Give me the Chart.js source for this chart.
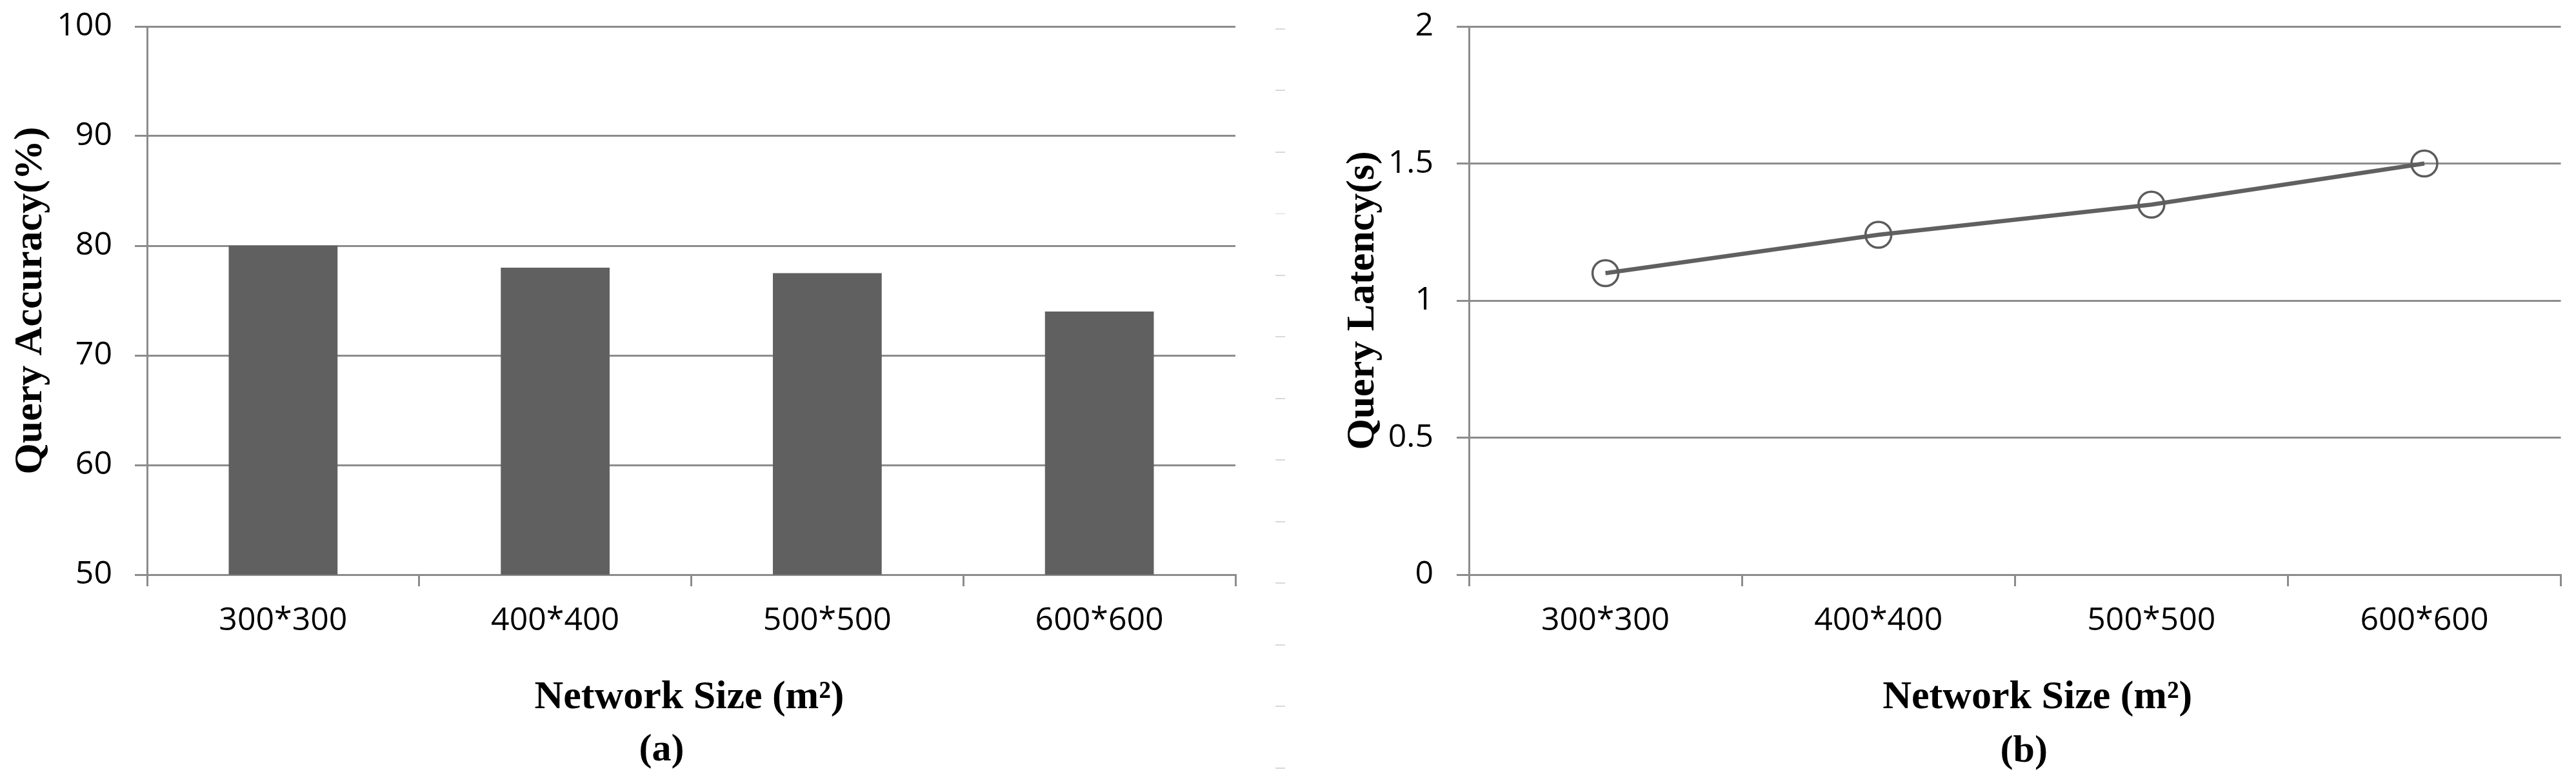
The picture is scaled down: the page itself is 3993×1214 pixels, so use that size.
<!DOCTYPE html>
<html><head><meta charset="utf-8">
<script src="https://cdn.jsdelivr.net/npm/chart.js@4.4.0/dist/chart.umd.min.js"></script>
<style>
html,body{margin:0;padding:0;background:#fff;}
#wrap{position:relative;width:3993px;height:1214px;overflow:hidden;background:#fff;}
#c1{position:absolute;left:0;top:0;}
#c2{position:absolute;left:1960px;top:0;}
#divider{position:absolute;left:1977px;top:0;width:15px;height:1214px;
 background:repeating-linear-gradient(to bottom, transparent 0px, transparent 44px, #d6dada 44px, #d6dada 46px, transparent 46px, transparent 95.5px);}
</style></head>
<body><div id="wrap"><canvas id="c1" width="1960" height="1214"></canvas><canvas id="c2" width="2033" height="1214"></canvas><div id="divider"></div></div>
<script>
// ---- data ----
const categories = ['300*300', '400*400', '500*500', '600*600'];
const accuracy = [80, 78, 77.5, 74];          // Query Accuracy (%)
const latency = [1.1, 1.24, 1.35, 1.5];       // Query Latency (s)
const accuracyTicks = [50, 60, 70, 80, 90, 100];
const latencyTicks = [0, 0.5, 1, 1.5, 2];
const xTitle = 'Network Size (m\u00B2)';
const yTitleA = 'Query Accuracy(%)';
const yTitleB = 'Query Latency(s)';
const captionA = '(a)';
const captionB = '(b)';

// ---- styles ----
const GRID = '#8c8c8c';
const TICK_FONT = {family: '"Open Sans"', size: 50};
const TITLE_FONT = {family: '"Liberation Serif"', size: 62, weight: 'bold'};

const captionPlugin = {
  id: 'captions',
  afterDraw(chart, args, opts) {
    const ctx = chart.ctx, ca = chart.chartArea;
    const cx = (ca.left + ca.right) / 2;
    ctx.save();
    ctx.fillStyle = '#000';
    ctx.textAlign = 'center';
    ctx.textBaseline = 'alphabetic';
    for (const c of (opts.items || [])) {
      ctx.font = c.font;
      ctx.fillText(c.text, cx + c.dx, c.y);
    }
    ctx.restore();
  }
};

function xScale() {
  return {
    type: 'category',
    offset: true,
    grid: {display: true, drawOnChartArea: false, drawTicks: true, tickLength: 18, color: GRID, lineWidth: 3, offset: true},
    border: {display: true, color: GRID, width: 3},
    ticks: {color: '#000', font: TICK_FONT, padding: 24, maxRotation: 0, autoSkip: false},
    afterFit(s) { s.height = 323; s.paddingLeft = 0; s.paddingRight = 0; }
  };
}
function yScale(tks, title, titlePad, width, pad) {
  return {
    min: tks[0], max: tks[tks.length - 1],
    ticks: {stepSize: tks[1] - tks[0], color: '#000', font: TICK_FONT, padding: pad,
            callback: (v) => String(v)},
    grid: {color: GRID, lineWidth: 3, tickLength: 19, drawTicks: true},
    border: {display: true, color: GRID, width: 3},
    title: {display: true, text: title, color: '#000', font: TITLE_FONT, padding: {top: titlePad, bottom: 0}},
    afterFit(s) { s.width = width; s.paddingTop = 0; s.paddingBottom = 0; }
  };
}
const common = {
  responsive: false, animation: false, devicePixelRatio: 1,
  events: [],
  plugins: {legend: {display: false}, tooltip: {enabled: false}}
};

new Chart(document.getElementById('c1'), {
  type: 'bar',
  data: {labels: categories, datasets: [{data: accuracy, backgroundColor: '#606060', borderWidth: 0, barPercentage: 0.4, categoryPercentage: 1.0}]},
  options: Object.assign({}, common, {
    layout: {padding: {top: 41, right: 45, left: 0, bottom: 0}},
    scales: {x: xScale(), y: yScale(accuracyTicks, yTitleA, 11, 228, 35)},
    plugins: Object.assign({}, common.plugins, {captions: {items: [
      {text: xTitle, dx: -3, y: 1098, font: 'bold 62px "Liberation Serif"'},
      {text: captionA, dx: -46, y: 1179, font: 'bold 60px "Liberation Serif"'}
    ]}})
  }),
  plugins: [captionPlugin]
});

new Chart(document.getElementById('c2'), {
  type: 'line',
  data: {labels: categories, datasets: [{data: latency, borderColor: '#606060', borderWidth: 6.5, tension: 0,
    pointRadius: 20, pointBorderWidth: 3.5, pointBorderColor: '#5c5c5c', pointBackgroundColor: 'rgba(255,255,255,0)', clip: false}]},
  options: Object.assign({}, common, {
    layout: {padding: {top: 41, right: 15, left: 0, bottom: 0}},
    scales: {x: xScale(), y: yScale(latencyTicks, yTitleB, 116, 317, 36)},
    plugins: Object.assign({}, common.plugins, {captions: {items: [
      {text: xTitle, dx: 35, y: 1098, font: 'bold 62px "Liberation Serif"'},
      {text: captionB, dx: 14, y: 1181, font: 'bold 60px "Liberation Serif"'}
    ]}})
  }),
  plugins: [captionPlugin]
});
</script>
</body></html>
